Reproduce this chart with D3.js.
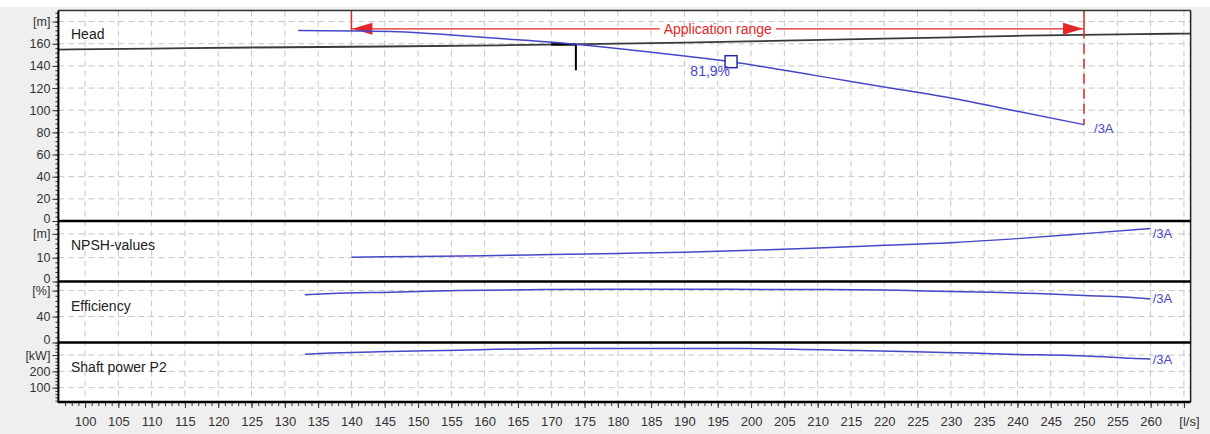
<!DOCTYPE html>
<html>
<head>
<meta charset="utf-8">
<script src="https://cdn.jsdelivr.net/npm/d3@7"></script>
<style>
  body { margin: 0; background: #fff; }
  svg { display: block; font-family: "Liberation Sans", Arial, sans-serif; }
</style>
</head>
<body>
<svg id="chart" width="1210" height="434"></svg>
<script>
// flow axis [l/s]
const flowTicks = d3.range(100, 266, 5);

// pump head curve [m]
const headFlow   = [132, 140, 147, 155, 165, 174, 183, 190, 197, 205, 210, 215, 220, 230, 240, 250];
const headValues = [172, 171.6, 170.8, 167.8, 163.5, 159.4, 153.6, 148.9, 143.8, 136, 131, 126, 121, 111, 99, 87];

// system curve [m]
const sysFlow   = [96, 110, 125, 145, 162, 175, 190, 205, 218, 230, 241, 263, 266];
const sysValues = [154.7, 155.6, 156.6, 157.5, 158.6, 159.6, 161, 162.8, 164.3, 165.8, 167.3, 169, 169.2];

// NPSH [m]
const npshFlow   = [140, 150, 160, 170, 180, 190, 200, 210, 220, 230, 240, 250, 260];
const npshValues = [10.2, 10.5, 10.8, 11.3, 11.8, 12.3, 13.1, 14.1, 15.2, 16.3, 18.0, 20.1, 22.3];

// efficiency [%]
const effFlow   = [133, 137, 146, 156, 169, 180, 197, 210, 220, 226, 236, 243, 250, 256, 260];
const effValues = [73.5, 75.5, 77.5, 80, 81.5, 81.9, 81.9, 81.6, 80.8, 79.5, 77.5, 75.5, 72.5, 70, 67];

// shaft power P2 [kW]
const powerFlow   = [133, 137, 144, 154, 171, 199, 216, 226, 233, 240, 248, 253, 257, 260];
const powerValues = [305, 312, 320, 328, 340, 340, 328, 318, 312, 304, 298, 290, 280, 276];

// tick labels per panel
const headTicks  = [0, 20, 40, 60, 80, 100, 120, 140, 160];
const npshTicks  = [0, 10];
const effTicks   = [0, 40];
const powerTicks = [100, 200];

// operating point, duty marker, application range
const opFlow = 197, opHead = 143.8, opLabel = "81,9%";
const dutyFlow = 173.7, dutyHead = 159.4, dutyLow = 136, dutyStart = 170;
const rangeMin = 140, rangeMax = 250, rangeLevel = 173.5;
const curveName = "/3A";

const svg = d3.select("#chart");
const W = 1210, H = 434;
const pL = 58.4, pR = 1190.6, pT = 10.5, pB = 402;
const blue = "#4646c8", red = "#e32626";

svg.append("rect").attr("x", 0).attr("y", 7).attr("width", W).attr("height", H - 7).attr("fill", "#efefef");
svg.append("rect").attr("x", pL).attr("y", pT).attr("width", pR - pL).attr("height", pB - pT).attr("fill", "#fff");

const x = d3.scaleLinear().domain([96, 266]).range([pL, pR]);

const panels = [
  {title: "Head", unit: "[m]", unitAt: 180, ticks: headTicks, minor: 4, domain: [0, 190], y0: 221, y1: pT,
   flow: headFlow, values: headValues, labelDy: 8, labelDx: 10},
  {title: "NPSH-values", unit: "[m]", unitAt: 20, ticks: npshTicks, minor: 2, domain: [0, 25.4], y0: 281.5, y1: 221,
   flow: npshFlow, values: npshValues, labelDy: 10, labelDx: 2},
  {title: "Efficiency", unit: "[%]", unitAt: 80, ticks: effTicks, minor: 8, domain: [0, 94], y0: 342.5, y1: 281.5,
   flow: effFlow, values: effValues, labelDy: 4, labelDx: 2},
  {title: "Shaft power P2", unit: "[kW]", unitAt: 300, ticks: powerTicks, minor: 20, domain: [12, 377], y0: pB, y1: 342.5,
   flow: powerFlow, values: powerValues, labelDy: 5, labelDx: 2}
];

panels.forEach(p => { p.y = d3.scaleLinear().domain(p.domain).range([p.y0, p.y1]); });

// vertical grid
svg.append("g").selectAll("line").data(flowTicks).join("line")
  .attr("x1", d => x(d)).attr("x2", d => x(d))
  .attr("y1", pT).attr("y2", pB)
  .attr("stroke", "#c6c6c6").attr("stroke-dasharray", "6,4");

panels.forEach(p => {
  const gridVals = p.ticks.concat([p.unitAt]).filter(v => v > p.domain[0]);
  svg.append("g").selectAll("line").data(gridVals).join("line")
    .attr("x1", pL).attr("x2", pR)
    .attr("y1", d => p.y(d)).attr("y2", d => p.y(d))
    .attr("stroke", "#c6c6c6").attr("stroke-dasharray", "6,4");

  // minor ticks
  const minorVals = d3.range(Math.ceil(p.domain[0] / p.minor) * p.minor, p.domain[1], p.minor);
  svg.append("g").attr("transform", `translate(${pL},0)`)
    .call(d3.axisLeft(p.y).tickValues(minorVals).tickSize(3).tickFormat(""))
    .call(g => g.select(".domain").remove())
    .selectAll("line").attr("stroke", "#333");

  // major ticks + unit label in place of the top tick
  svg.append("g").attr("transform", `translate(${pL},0)`)
    .call(d3.axisLeft(p.y).tickValues(p.ticks.concat([p.unitAt])).tickSize(6).tickPadding(2)
      .tickFormat(d => d === p.unitAt ? p.unit : d))
    .call(g => g.select(".domain").remove())
    .call(g => g.selectAll("line").attr("stroke", "#333"))
    .call(g => g.selectAll("text").attr("font-size", 12.5).attr("fill", "#333")
      .attr("font-family", "'Liberation Sans', Arial, sans-serif")
      .attr("y", d => d === 0 ? -3 : 0));

  svg.append("text").attr("x", 71).attr("y", (p.y1 + (p.title === "Head" ? 28 : 29)))
    .attr("font-size", 14).attr("fill", "#222").text(p.title);
});

// system curve
const sysLine = d3.line().x((d, i) => x(sysFlow[i])).y(d => panels[0].y(d)).curve(d3.curveMonotoneX);
svg.append("path").attr("d", sysLine(sysValues)).attr("fill", "none").attr("stroke", "#3a3a3a").attr("stroke-width", 1.8);

// application range (red)
const yh = panels[0].y;
svg.append("line").attr("x1", x(rangeMin)).attr("x2", x(rangeMin)).attr("y1", pT).attr("y2", yh(rangeLevel) + 1.5)
  .attr("stroke", red).attr("stroke-width", 1.5);
svg.append("line").attr("x1", x(rangeMax)).attr("x2", x(rangeMax)).attr("y1", pT).attr("y2", yh(rangeLevel))
  .attr("stroke", red).attr("stroke-width", 1.5);
svg.append("line").attr("x1", x(rangeMax)).attr("x2", x(rangeMax))
  .attr("y1", yh(rangeLevel)).attr("y2", yh(headValues[headValues.length - 1]))
  .attr("stroke", red).attr("stroke-width", 1.5).attr("stroke-dasharray", "10,5");
svg.append("line").attr("x1", x(rangeMin)).attr("x2", x(rangeMax)).attr("y1", yh(rangeLevel)).attr("y2", yh(rangeLevel))
  .attr("stroke", red).attr("stroke-width", 1.3);
const ay = yh(rangeLevel);
svg.append("path").attr("fill", red)
  .attr("d", `M${x(rangeMin) + 1},${ay} L${x(rangeMin) + 21},${ay - 6} L${x(rangeMin) + 21},${ay + 6} Z`);
svg.append("path").attr("fill", red)
  .attr("d", `M${x(rangeMax) - 1},${ay} L${x(rangeMax) - 21},${ay - 6} L${x(rangeMax) - 21},${ay + 6} Z`);
const rangeText = svg.append("text").attr("x", x((rangeMin + rangeMax) / 2)).attr("y", ay + 5)
  .attr("text-anchor", "middle").attr("font-size", 14).attr("fill", red).text("Application range");
const bb = rangeText.node().getBBox();
svg.insert("rect", () => rangeText.node())
  .attr("x", bb.x - 4).attr("y", ay - 2).attr("width", bb.width + 8).attr("height", 4).attr("fill", "#fff");

// duty marker
svg.append("line").attr("x1", x(dutyFlow)).attr("x2", x(dutyFlow)).attr("y1", yh(dutyHead)).attr("y2", yh(dutyLow))
  .attr("stroke", "#000").attr("stroke-width", 2);
svg.append("line").attr("x1", x(dutyStart)).attr("x2", x(dutyFlow)).attr("y1", yh(dutyHead)).attr("y2", yh(dutyHead))
  .attr("stroke", "#000").attr("stroke-width", 2.5);

// pump curves
panels.forEach(p => {
  const line = d3.line().x((d, i) => x(p.flow[i])).y(d => p.y(d)).curve(d3.curveMonotoneX);
  svg.append("path").attr("d", line(p.values)).attr("fill", "none").attr("stroke", blue).attr("stroke-width", 1.5);
  const n = p.flow.length - 1;
  svg.append("text").attr("x", x(p.flow[n]) + p.labelDx).attr("y", p.y(p.values[n]) + p.labelDy)
    .attr("font-size", 13).attr("fill", blue).text(curveName);
});

// operating point
svg.append("rect").attr("x", x(opFlow) - 6).attr("y", yh(opHead) - 6).attr("width", 12).attr("height", 12)
  .attr("fill", "#fff").attr("stroke", "#2a2aa8").attr("stroke-width", 1.5);
svg.append("text").attr("x", x(opFlow) - 1).attr("y", yh(opHead) + 14).attr("text-anchor", "end")
  .attr("font-size", 14).attr("fill", blue).text(opLabel);

// frame
svg.append("line").attr("x1", pL).attr("x2", pR).attr("y1", pT).attr("y2", pT).attr("stroke", "#333").attr("stroke-width", 1.5);
svg.append("line").attr("x1", pR).attr("x2", pR).attr("y1", pT).attr("y2", pB).attr("stroke", "#222").attr("stroke-width", 1.5);
svg.append("line").attr("x1", pL).attr("x2", pL).attr("y1", pT).attr("y2", pB + 1).attr("stroke", "#000").attr("stroke-width", 2);
panels.forEach(p => {
  svg.append("line").attr("x1", pL).attr("x2", pR).attr("y1", p.y0).attr("y2", p.y0)
    .attr("stroke", "#000").attr("stroke-width", 2.5);
});

// x axis
svg.append("g").attr("transform", `translate(0,${pB + 1})`)
  .call(d3.axisBottom(x).tickValues(d3.range(97, 266, 1)).tickSize(3).tickFormat(""))
  .call(g => g.select(".domain").remove())
  .selectAll("line").attr("stroke", "#333");
svg.append("g").attr("transform", `translate(0,${pB + 1})`)
  .call(d3.axisBottom(x).tickValues(flowTicks).tickSize(5).tickPadding(9)
    .tickFormat(d => d === 265 ? "[l/s]" : d))
  .call(g => g.select(".domain").remove())
  .call(g => g.selectAll("line").attr("stroke", "#333"))
  .call(g => g.selectAll("text").attr("font-size", 13).attr("fill", "#333")
    .attr("font-family", "'Liberation Sans', Arial, sans-serif")
    .attr("dx", d => d === 265 ? 5 : 0));
</script>
</body>
</html>
